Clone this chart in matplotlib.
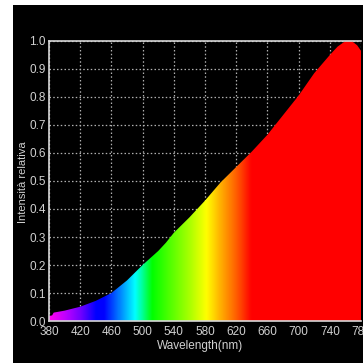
import numpy as np
import matplotlib
matplotlib.use("Agg")
import matplotlib.pyplot as plt
from matplotlib.colors import LinearSegmentedColormap

# ---- data ----
wavelength = [380, 384, 386, 400, 420, 440, 460, 480, 500, 510, 520, 530, 540,
              560, 570, 580, 600, 620, 640, 660, 680, 700, 720, 740, 750,
              760, 768, 775, 780]
intensity = [0.018, 0.02, 0.03, 0.037, 0.051, 0.072, 0.10, 0.145, 0.20, 0.225,
             0.25, 0.28, 0.315, 0.37, 0.40, 0.43, 0.495, 0.55, 0.605, 0.665,
             0.735, 0.805, 0.885, 0.95, 0.98, 1.0, 1.0, 0.985, 0.965]

color_nm = [380, 400, 420, 440, 450, 470, 490, 500, 512, 530, 560, 582, 600, 620, 640, 780]
color_hex = ["#ff00f0", "#c000ff", "#7000ff", "#0000ff", "#0000ff", "#0080ff",
             "#00ffff", "#00ff90", "#00ff00", "#40ff00", "#a8ff00", "#ffff00",
             "#ffb000", "#ff6000", "#ff0000", "#ff0000"]

x_ticks = [380, 420, 460, 500, 540, 580, 620, 660, 700, 740, 780]
y_ticks = [0.0, 0.1, 0.2, 0.3, 0.4, 0.5, 0.6, 0.7, 0.8, 0.9, 1.0]
x_label = "Wavelength(nm)"
y_label = "Intensità relativa"

plt.rcParams['font.family'] = ['Liberation Sans', 'DejaVu Sans']

# ---- figure ----
W = H = 363
fig = plt.figure(figsize=(W / 100, H / 100), dpi=100, facecolor="white")
bg_ax = fig.add_axes([13 / W, 0, 1 - 13 / W, 1 - 5 / H], zorder=-5)
bg_ax.set_facecolor("black")
bg_ax.set_xticks([])
bg_ax.set_yticks([])
for s in bg_ax.spines.values():
    s.set_visible(False)

left, right, top, bottom = 49, 361, 41, 321
ax = fig.add_axes([left / W, (H - bottom) / H, (right - left) / W, (bottom - top) / H], zorder=1)
ax.set_facecolor("black")

txt = "#d0d0d0"

# gradient fill
lo, hi = min(color_nm), max(color_nm)
pos = [(v - lo) / (hi - lo) for v in color_nm]
cmap = LinearSegmentedColormap.from_list("spec", list(zip(pos, color_hex)))
grad = np.linspace(0, 1, 800).reshape(1, -1)
im = ax.imshow(grad, cmap=cmap, extent=[lo, hi, 0, 1], aspect="auto",
               origin="lower", zorder=2, interpolation="bilinear")
poly = ax.fill_between(wavelength, 0, intensity, facecolor="none", edgecolor="none")
path = poly.get_paths()[0]
im.set_clip_path(path, transform=ax.transData)

ax.set_xlim(380, 780)
ax.set_ylim(0, 1.0)
ax.set_xticks(x_ticks)
ax.set_yticks(y_ticks)
ax.set_xticklabels([str(v) for v in x_ticks])
ax.set_yticklabels([f"{v:.1f}" for v in y_ticks])
ax.tick_params(axis="x", length=0, pad=3.5, colors=txt, labelsize=8.5)
ax.tick_params(axis="y", length=0, pad=2.5, colors=txt, labelsize=8.5)
for lab in ax.get_xticklabels() + ax.get_yticklabels():
    lab.set_fontweight("medium")
    lab.set_color(txt)

ax.grid(True, color="#b0b0b0", linestyle=(0, (1.2, 1.8)), linewidth=0.9, zorder=1)
ax.set_axisbelow(True)

for s in ["left", "top", "bottom"]:
    ax.spines[s].set_color("#d8d8d8")
    ax.spines[s].set_linewidth(1.2)
    ax.spines[s].set_zorder(3)
ax.spines["right"].set_visible(False)

fig.text(200 / W, 1 - 346 / H, x_label, color=txt, fontsize=8.5,
         ha="center", va="center")
fig.text(23 / W, 1 - 182 / H, y_label, color=txt, fontsize=8,
         ha="center", va="center", rotation=90)

fig.savefig("out.png", dpi=100, facecolor="white")
